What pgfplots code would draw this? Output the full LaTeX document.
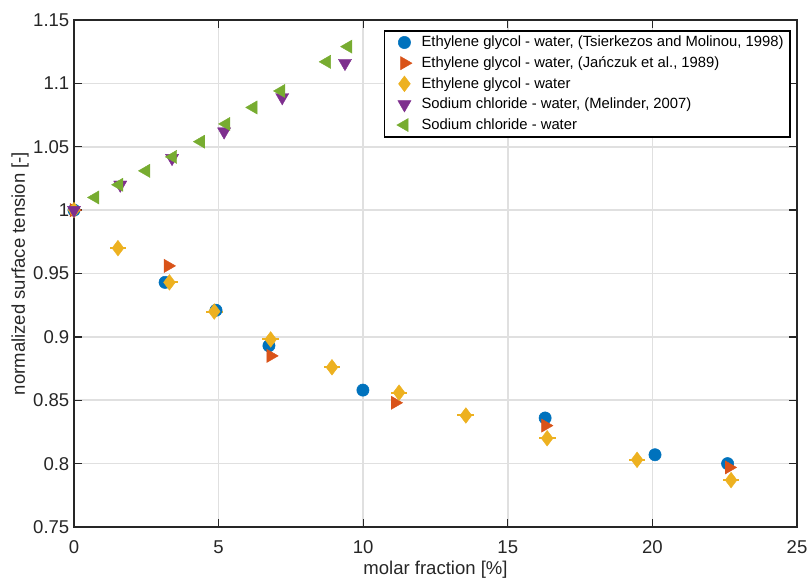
\documentclass[border=0pt]{standalone}
\usepackage{pgfplots}
\pgfplotsset{compat=1.18}
\usepackage{fontspec}
\setmainfont{Liberation Sans}
\definecolor{mblue}{rgb}{0,0.447,0.741}
\definecolor{morange}{rgb}{0.85,0.325,0.098}
\definecolor{myellow}{rgb}{0.929,0.694,0.125}
\definecolor{mpurple}{rgb}{0.494,0.184,0.556}
\definecolor{mgreen}{rgb}{0.466,0.674,0.188}
\definecolor{axgray}{rgb}{0.15,0.15,0.15}
\pgfplotsset{
  mylegimg/.style={legend image code/.code={%
    \path (-11.5pt,0pt) (10.25pt,0pt);
    \draw[##1] plot coordinates {(0pt,0pt)};}},
}
\begin{document}
\begin{tikzpicture}
\begin{axis}[
  width=542.25pt, height=380.25pt, scale only axis,
  xmin=0, xmax=25, ymin=0.75, ymax=1.15,
  xtick={0,5,...,25},
  ytick={0.75,0.8,0.85,0.9,0.95,1,1.05,1.1,1.15},
  yticklabels={0.75,0.8,0.85,0.9,0.95,1,1.05,1.1,1.15},
  /pgf/number format/assume math mode=true,
  tick label style={font=\fontsize{13.9}{16}\selectfont, color=axgray},
  xticklabel style={yshift=-7pt},
  label style={font=\fontsize{13.9}{16}\selectfont, color=axgray},
  xlabel={molar fraction [\%]},
  ylabel={normalized surface tension [-]},
  xlabel style={at={(axis description cs:0.5,-0.0848)}, anchor=center},
  ylabel style={at={(axis description cs:-0.0747,0.5)}, anchor=center},
  grid=major,
  major grid style={draw=black!12, line width=1.3pt},
  axis line style={draw=axgray, line width=1pt},
  tick style={draw=axgray, line width=1pt},
  tick align=inside,
  major tick length=6pt,
  legend style={at={([xshift=-4.5pt,yshift=-7.5pt]rel axis cs:1,1)}, anchor=north east, draw=black, line width=1.2pt,
    font=\fontsize{11.1}{13}\selectfont, row sep=1.9pt},
  legend cell align=left,
]
\addplot[only marks, mark=*, mark size=4.6pt, color=mblue, mark options={draw=mblue, fill=mblue, line width=0.4pt}, mylegimg] coordinates {
 (0,1.0) (3.15,0.943) (4.91,0.921) (6.74,0.893) (9.99,0.858) (16.29,0.836) (20.09,0.807) (22.6,0.800)
};
\addlegendentry{Ethylene glycol - water, (Tsierkezos and Molinou, 1998)}
\addplot[only marks, mark=triangle*, mark size=5.7pt, color=morange, mark options={rotate=-90, draw=morange, fill=morange, line width=0.3pt}, mylegimg] coordinates {
 (0,1.0) (3.25,0.956) (6.8,0.885) (11.1,0.848) (16.3,0.830) (22.65,0.797)
};
\addlegendentry{Ethylene glycol - water, (Ja\'nczuk et al., 1989)}
\addplot[only marks, mark=diamond*, mark size=5.9pt, color=myellow, mark options={draw=myellow, fill=myellow, line width=0.3pt}, mylegimg,
  error bars/.cd, x dir=both, x explicit, error mark=none,
  error bar style={line width=1.5pt, color=myellow}] table[x=x, y=y, x error=ex] {
x y ex
0 1.0 0.2
1.52 0.970 0.29
3.3 0.943 0.29
4.85 0.920 0.29
6.8 0.898 0.29
8.92 0.876 0.29
11.24 0.856 0.29
13.55 0.838 0.29
16.36 0.820 0.29
19.47 0.803 0.29
22.72 0.787 0.29
};
\addlegendentry{Ethylene glycol - water}
\addplot[only marks, mark=triangle*, mark size=5.7pt, color=mpurple, mark options={rotate=180, draw=mpurple, fill=mpurple, line width=0.3pt}, mylegimg] coordinates {
 (0,1.0) (1.6,1.020) (3.39,1.041) (5.19,1.062) (7.2,1.089) (9.37,1.116)
};
\addlegendentry{Sodium chloride - water, (Melinder, 2007)}
\addplot[only marks, mark=triangle*, mark size=5.7pt, color=mgreen, mark options={rotate=90, draw=mgreen, fill=mgreen, line width=0.3pt}, mylegimg] coordinates {
 (0.73,1.010) (1.56,1.020) (2.49,1.031) (3.42,1.042) (4.39,1.054) (5.26,1.068) (6.2,1.081) (7.16,1.094) (8.74,1.117) (9.48,1.129)
};
\addlegendentry{Sodium chloride - water}
\end{axis}
\pgfresetboundingbox
\path ([shift={(-55.5pt,-41.25pt)}]current axis.south west) rectangle ([shift={(11.25pt,15pt)}]current axis.north east);
\end{tikzpicture}
\end{document}
